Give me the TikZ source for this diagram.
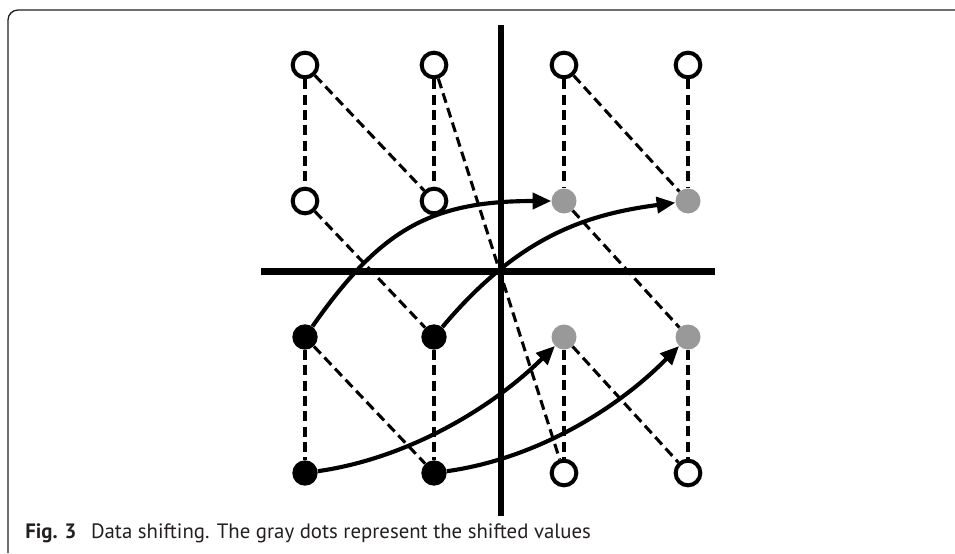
\documentclass[tikz,border=0pt]{standalone}
\usepackage{fontspec}
\setmainfont{PT Sans}
\usetikzlibrary{arrows.meta}
\definecolor{shiftgray}{RGB}{153,153,153}
\definecolor{framegray}{RGB}{35,31,32}
\tikzset{
  opendot/.style={circle, draw=black, line width=3pt, fill=white, minimum size=18.5pt, inner sep=0pt},
  blackdot/.style={circle, fill=black, minimum size=19pt, inner sep=0pt},
  graydot/.style={circle, fill=shiftgray, minimum size=18.75pt, inner sep=0pt},
  link/.style={dash pattern=on 7.5pt off 4pt, line width=2.3pt},
  shiftarrow/.style={line width=3.1pt, -{Triangle[length=14pt,width=12pt]}},
  axisline/.style={line width=5pt},
}
\begin{document}
\begin{tikzpicture}[x=0.75pt, y=-0.75pt]
\useasboundingbox (0,0) rectangle (955,553);

% panel frame (top and left edges only)
\draw[line width=1pt, draw=framegray, rounded corners=7.5pt] (8,553) -- (8,10) -- (955,10);

% axes
\coordinate (ytop) at (501,25);
\coordinate (ybot) at (501,516);
\coordinate (xleft) at (261,271.5);
\coordinate (xright) at (715,271.5);
\draw[axisline] (ytop) -- (ybot);
\draw[axisline] (xleft) -- (xright);

% grid of values
\node[opendot]  (n11) at (305,65)  {};
\node[opendot]  (n12) at (434,65)  {};
\node[opendot]  (n13) at (564,65)  {};
\node[opendot]  (n14) at (688,65)  {};
\node[opendot]  (n21) at (305,201) {};
\node[opendot]  (n22) at (434,201) {};
\node[graydot]  (n23) at (564,201) {};
\node[graydot]  (n24) at (688,201) {};
\node[blackdot] (n31) at (305,337) {};
\node[blackdot] (n32) at (434,337) {};
\node[graydot]  (n33) at (564,337) {};
\node[graydot]  (n34) at (688,337) {};
\node[blackdot] (n41) at (305,473) {};
\node[blackdot] (n42) at (434,473) {};
\node[opendot]  (n43) at (564,473) {};
\node[opendot]  (n44) at (688,473) {};

% dashed links
\draw[link] (n11) -- (n21);
\draw[link] (n12) -- (n22);
\draw[link] (n13) -- (n23);
\draw[link] (n14) -- (n24);
\draw[link] (n31) -- (n41);
\draw[link] (n32) -- (n42);
\draw[link] (n33) -- (n43);
\draw[link] (n34) -- (n44);
\draw[link] (n11) -- (n22);
\draw[link] (n12) -- (n43);
\draw[link] (n13) -- (n24);
\draw[link] (n21) -- (n32);
\draw[link] (n23) -- (n34);
\draw[link] (n31) -- (n42);
\draw[link] (n33) -- (n44);

% shifting arrows
\draw[shiftarrow] (n31) .. controls (380,230) and (430,201) .. (n23);
\draw[shiftarrow] (n32) .. controls (518,237) and (585,214.5) .. (n24);
\draw[shiftarrow] (n41) .. controls (404,459) and (489,411) .. (n33);
\draw[shiftarrow] (n42) .. controls (534,459) and (615,411) .. (n34);

% caption
\node[anchor=base west, inner sep=0pt, text=framegray, font=\fontsize{15.6pt}{18pt}\selectfont] (caption) at (25,538)
  {\textbf{Fig. 3}\hspace{0.7em}Data shifting. The gray dots represent the shifted values};
\end{tikzpicture}
\end{document}
